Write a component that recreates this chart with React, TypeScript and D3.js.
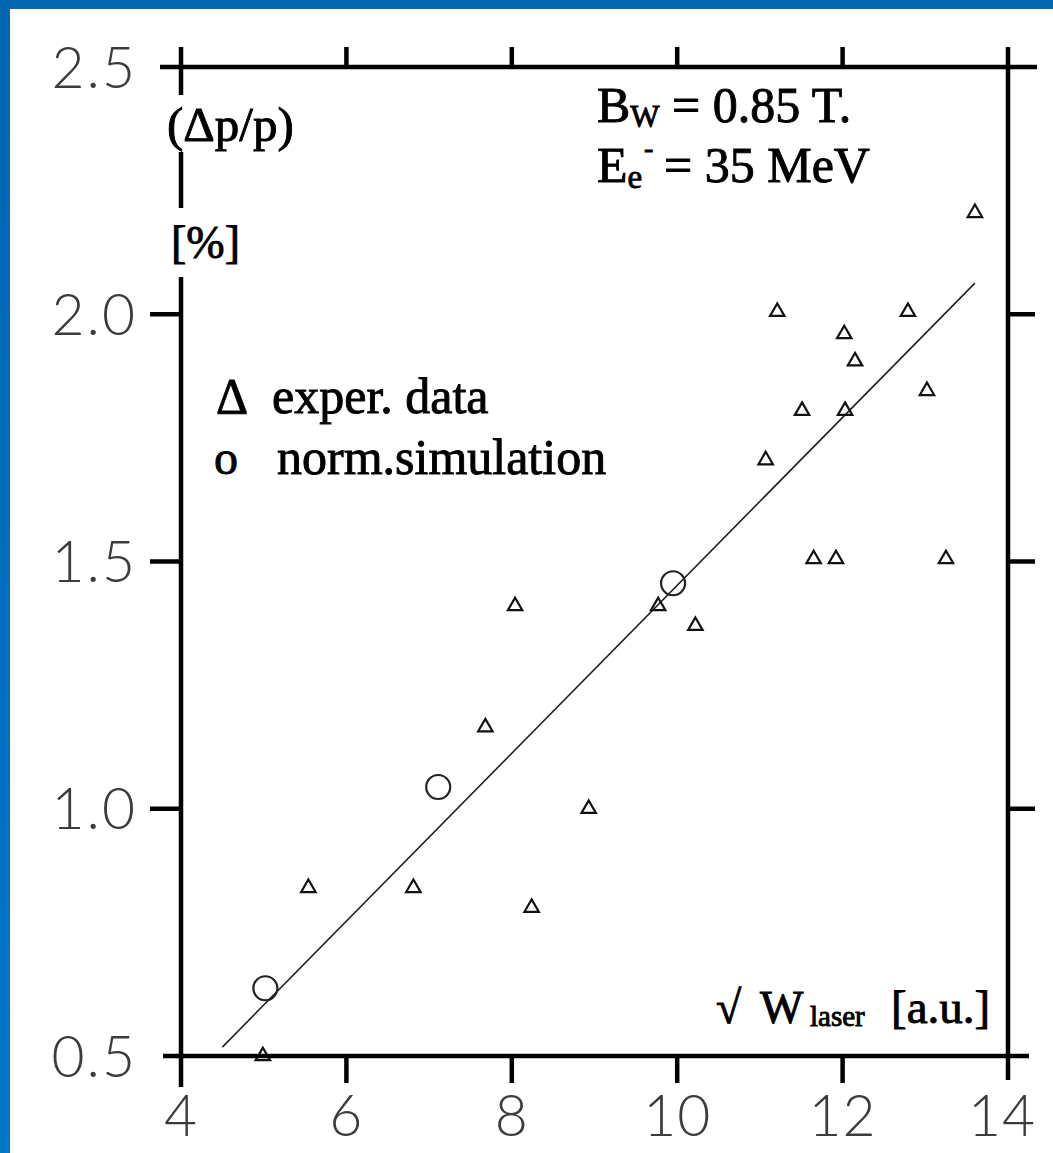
import React from "react";
import * as d3 from "d3";

// ---- data ----
const xTickValues = [4, 6, 8, 10, 12, 14];
const xTickLabels = ["4", "6", "8", "10", "12", "14"];
const yTickValues = [0.5, 1.0, 1.5, 2.0, 2.5];
const yTickLabels = ["0.5", "1.0", "1.5", "2.0", "2.5"];

// experimental data (triangles)
const expX = [4.99, 5.54, 6.81, 7.68, 8.04, 8.24, 8.93, 9.77, 10.22, 11.07, 11.21, 11.51, 11.65, 11.92, 12.02, 12.03, 12.15, 12.79, 13.02, 13.25, 13.6];
const expY = [0.5, 0.84, 0.84, 1.165, 1.41, 0.8, 1.0, 1.41, 1.37, 1.705, 2.005, 1.805, 1.505, 1.505, 1.96, 1.805, 1.905, 2.005, 1.845, 1.505, 2.205];

// normalized simulation (circles)
const simX = [5.02, 7.11, 9.95];
const simY = [0.637, 1.044, 1.456];

// fitted line
const fitX = [4.5, 13.6];
const fitY = [0.518, 2.063];

const W = 1053;
const H = 1153;

export default function App() {
  const x = d3.scaleLinear().domain([4, 14]).range([181, 1008]);
  const y = d3.scaleLinear().domain([0.5, 2.5]).range([1056, 67]);

  const tri = d3.symbol().type(d3.symbolTriangle).size(90)();
  const line = d3
    .line<number>()
    .x((d, i) => x(fitX[i]))
    .y((d, i) => y(fitY[i]));

  const x0 = x(4), x1 = x(14), yTop = y(2.5), yBot = y(0.5);
  const axisW = 4.5;
  const serif = "'Liberation Serif', 'Times New Roman', serif";
  const sans = "Lato, 'Liberation Sans', Arial, sans-serif";
  const tickFill = "#3c3c3c";

  return (
    <svg width={W} height={H} style={{ position: "absolute", left: 0, top: 0, background: "#fff" }}>
      <defs>
        <linearGradient id="leftBlue" x1="0" y1="0" x2="0" y2="1">
          <stop offset="0" stopColor="#0066B0" />
          <stop offset="1" stopColor="#0076CB" />
        </linearGradient>
      </defs>
      <rect x={0} y={0} width={W} height={H} fill="#fff" />
      <rect x={0} y={0} width={W} height={9} fill="#0067B1" />
      <rect x={0} y={0} width={10} height={H} fill="url(#leftBlue)" />

      {/* fitted line */}
      <path d={line(fitX) || ""} fill="none" stroke="#222" strokeWidth={1.6} />

      {/* experimental triangles */}
      {expX.map((v, i) => (
        <path
          key={"t" + i}
          d={tri}
          transform={`translate(${x(v)},${y(expY[i])})`}
          fill="none"
          stroke="#111"
          strokeWidth={2.2}
        />
      ))}

      {/* simulation circles */}
      {simX.map((v, i) => (
        <circle key={"c" + i} cx={x(v)} cy={y(simY[i])} r={12} fill="none" stroke="#222" strokeWidth={2.2} />
      ))}

      {/* frame */}
      <g stroke="#000" strokeWidth={axisW} strokeLinecap="butt">
        <line x1={160} y1={yTop} x2={1037} y2={yTop} />
        <line x1={163} y1={yBot} x2={1029} y2={yBot} />
        <line x1={x1} y1={47} x2={x1} y2={1080} />
        <line x1={x0} y1={47} x2={x0} y2={95} />
        <line x1={x0} y1={152} x2={x0} y2={208} />
        <line x1={x0} y1={277} x2={x0} y2={1087} />
        {xTickValues.slice(1, -1).map((v) => (
          <g key={"xt" + v}>
            <line x1={x(v)} y1={yTop} x2={x(v)} y2={47} />
            <line x1={x(v)} y1={yBot} x2={x(v)} y2={1083} />
          </g>
        ))}
        {yTickValues.slice(1, -1).map((v) => (
          <g key={"yt" + v}>
            <line x1={x0} y1={y(v)} x2={150} y2={y(v)} />
            <line x1={x1} y1={y(v)} x2={1035} y2={y(v)} />
          </g>
        ))}
      </g>

      {/* y tick labels */}
      {yTickValues.map((v, i) => (
        <text
          key={"yl" + v}
          x={137}
          y={y(v)}
          dy="0.36em"
          textAnchor="end"
          fontFamily={sans}
          fontWeight={300}
          fontSize={57}
          fill={tickFill}
          letterSpacing={2}
        >
          {yTickLabels[i]}
        </text>
      ))}

      {/* x tick labels */}
      {xTickValues.map((v, i) => (
        <text
          key={"xl" + v}
          x={x(v) - (i === xTickValues.length - 1 ? 6 : 0)}
          y={1136}
          textAnchor="middle"
          fontFamily={sans}
          fontWeight={300}
          fontSize={57}
          fill={tickFill}
          letterSpacing={1}
        >
          {xTickLabels[i]}
        </text>
      ))}

      {/* serif annotations */}
      <g fontFamily={serif} fill="#000" stroke="#000" strokeWidth={0.9}>
        <text x={167} y={141} fontSize={49}>(Δp/p)</text>
        <text x={171} y={258} fontSize={46}>[%]</text>

        <text x={597} y={122} fontSize={50}>
          B<tspan fontSize={31} dy={5}>W</tspan>
          <tspan x={672} dy={-5} fontSize={50}>= 0.85 T.</tspan>
        </text>
        <text x={597} y={182} fontSize={50}>
          E<tspan fontSize={33} dy={6}>e</tspan>
          <tspan x={644} dy={-31} fontSize={28}>-</tspan>
          <tspan x={664} dy={25} fontSize={50}>= 35 MeV</tspan>
        </text>

        <text x={216} y={413} fontSize={50}>Δ</text>
        <text x={272} y={413} fontSize={50}>exper. data</text>
        <text x={214} y={474} fontSize={48}>o</text>
        <text x={277} y={474} fontSize={50}>norm.simulation</text>

        <text x={716} y={1023} fontSize={46}>
          √<tspan x={760}>W</tspan>
          <tspan x={810} dy={3} fontSize={29}>laser</tspan>
          <tspan x={891} dy={-3} fontSize={47}>[a.u.]</tspan>
        </text>
      </g>
    </svg>
  );
}
